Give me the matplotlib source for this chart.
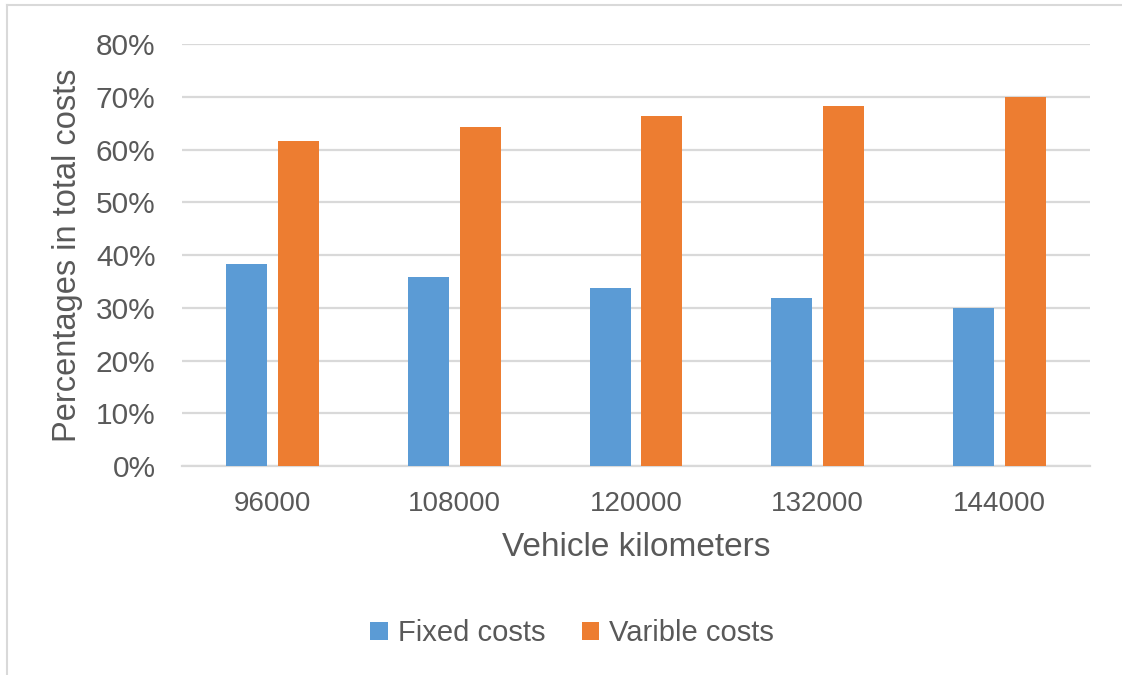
import matplotlib
matplotlib.use('Agg')
import matplotlib.pyplot as plt
import numpy as np
from matplotlib.lines import Line2D

# Data
km_labels = ['96000', '108000', '120000', '132000', '144000']
fixed_costs = [38.3, 35.8, 33.7, 31.8, 30.0]
variable_costs = [61.7, 64.2, 66.3, 68.2, 70.0]

plt.rcParams['font.family'] = ['Liberation Sans', 'DejaVu Sans']
text_color = '#595959'
grid_color = '#d9d9d9'

fig = plt.figure(figsize=(11.22, 6.75), dpi=100)
ax = fig.add_axes([0.1622, 0.3096, 0.8093, 0.6252])

x = np.arange(len(km_labels))
width = 0.226
offset = 0.143
ax.bar(x - offset, fixed_costs, width, color='#5b9bd5', label='Fixed costs', zorder=3)
ax.bar(x + offset, variable_costs, width, color='#ed7d31', label='Varible costs', zorder=3)

ax.set_xlim(-0.5, len(km_labels) - 0.5)
ax.set_ylim(0, 80)
ax.set_yticks(np.arange(0, 81, 10))
ax.set_yticklabels([f'{v}%' for v in range(0, 81, 10)])
ax.set_xticks(x)
ax.set_xticklabels(km_labels)

ax.grid(axis='y', color=grid_color, linewidth=1.6, zorder=0)
for side in ['top', 'right', 'left']:
    ax.spines[side].set_visible(False)
ax.spines['bottom'].set_color(grid_color)
ax.spines['bottom'].set_linewidth(1.6)
ax.tick_params(axis='both', length=0, colors=text_color)
ax.tick_params(axis='x', pad=18, labelsize=20)
ax.tick_params(axis='y', pad=19, labelsize=21.5)

ax.set_xlabel('Vehicle kilometers', fontsize=24, color=text_color, labelpad=11)
ax.set_ylabel('Percentages in total costs', fontsize=23.5, color=text_color, labelpad=9)

fig.legend(loc='center', bbox_to_anchor=(0.51, 0.062), ncol=2, frameon=False,
           fontsize=21, labelcolor=text_color, handlelength=0.6, handleheight=0.6,
           handletextpad=0.35, columnspacing=1.25)

# chart area border
fig.add_artist(Line2D([7 / 1122, 1.0], [1 - 5 / 675, 1 - 5 / 675], color=grid_color, linewidth=1.5))
fig.add_artist(Line2D([7 / 1122, 7 / 1122], [0.0, 1 - 5 / 675], color=grid_color, linewidth=1.5))

plt.savefig('out.png', dpi=100)
